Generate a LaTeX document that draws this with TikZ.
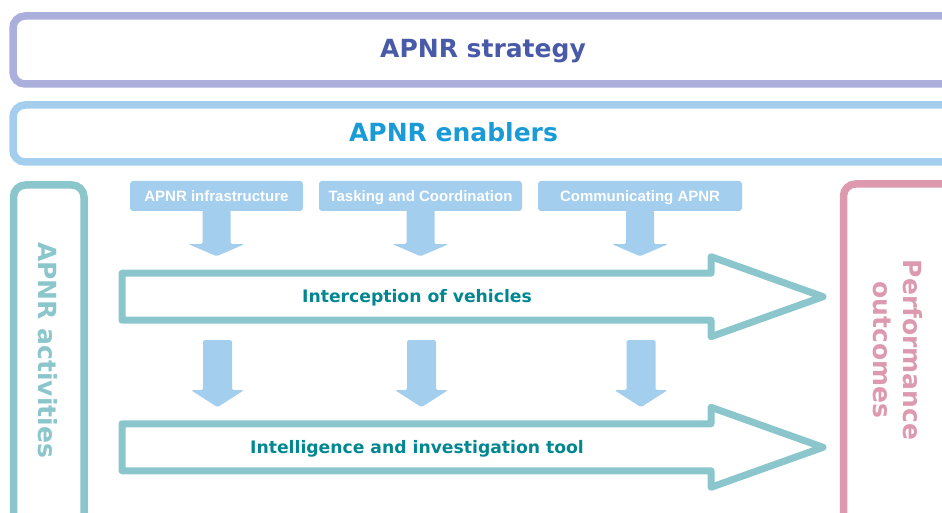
\documentclass[tikz,border=0pt]{standalone}
\usepackage{fontspec}
\newfontfamily\headfont{DejaVu Sans}
\newfontfamily\boxfont{Liberation Sans}
\definecolor{stratline}{RGB}{171,175,219}
\definecolor{strattext}{RGB}{72,90,168}
\definecolor{enabline}{RGB}{163,206,238}
\definecolor{enabtext}{RGB}{26,155,215}
\definecolor{actline}{RGB}{138,198,204}
\definecolor{acttext}{RGB}{0,135,145}
\definecolor{perfline}{RGB}{221,154,174}
\tikzset{
  frame/.style={line width=7.5pt, rounded corners=12pt},
  heading/.style={font=\headfont\bfseries\fontsize{25}{30}\selectfont, inner sep=0pt},
  capbox/.style={text height=18.2pt, text depth=0pt},
  enabler/.style={fill=enabline, text=white, rounded corners=3pt, inner sep=0pt,
    font=\boxfont\bfseries\fontsize{15}{18}\selectfont, minimum height=30pt,
    text height=10.7pt, text depth=0pt},
  enabarrow/.style={fill=enabline, rounded corners=1.5pt},
  activity/.style={text=acttext, font=\headfont\bfseries\fontsize{17.2}{20}\selectfont,
    inner sep=0pt, text height=12.5pt, text depth=0pt},
  bigarrow/.style={draw=actline, line width=7pt, line join=round}
}
\begin{document}
\begin{tikzpicture}[x=1pt, y=-1pt]
\useasboundingbox (0,0) rectangle (942,513);
\clip (0,0) rectangle (942,513);
% frames, open to the right and the bottom
\draw[frame, stratline] (13,16) rectangle (980,84);
\draw[frame, enabline] (13,105) rectangle (980,162);
\draw[frame, actline] (13.5,185) rectangle (84,580);
\draw[frame, perfline] (843.5,184) rectangle (980,580);
\node[heading, capbox, text=strattext] (strategy) at (483,48.3) {APNR strategy};
\node[heading, capbox, text=enabtext] (enablers) at (453.5,132.3) {APNR enablers};
\node[heading, capbox, text=actline, rotate=-90] (activities) at (47.5,350) {APNR activities};
\node[heading, text=perfline, rotate=-90, align=center] (outcomes) at (897.5,350) {Performance\\outcomes};
% enablers feeding the activities
\node[enabler, minimum width=173pt] (infra) at (216.5,196) {APNR infrastructure};
\node[enabler, minimum width=203pt] (task) at (420.5,196) {Tasking and Coordination};
\node[enabler, minimum width=204pt] (comm) at (640,196) {Communicating APNR};
\foreach \n in {infra,task,comm}
  \fill[enabarrow] (\n.south) ++(-14,-1) -- ++(0,34) -- ++(-14,0) -- ++(28,12)
    -- ++(28,-12) -- ++(-14,0) -- ++(0,-34) -- cycle;
\foreach \n in {infra,task,comm}
  \fill[enabarrow] (\n.south) ++(-13.5,129) -- ++(0,50) -- ++(-12,0) -- ++(26.5,17)
    -- ++(26.5,-17) -- ++(-12,0) -- ++(0,-50) -- cycle;
% activity arrows
\node[activity] (intercept) at (417,296.7) {Interception of vehicles};
\node[activity] (intel) at (417,447.3) {Intelligence and investigation tool};
\foreach \n in {intercept,intel}
  \draw[bigarrow] (\n) ++(-295,-23.5) -- ++(589,0) -- ++(0,-16.5) -- ++(112,40)
    -- ++(-112,40) -- ++(0,-16.5) -- ++(-589,0) -- cycle;
\end{tikzpicture}
\end{document}
